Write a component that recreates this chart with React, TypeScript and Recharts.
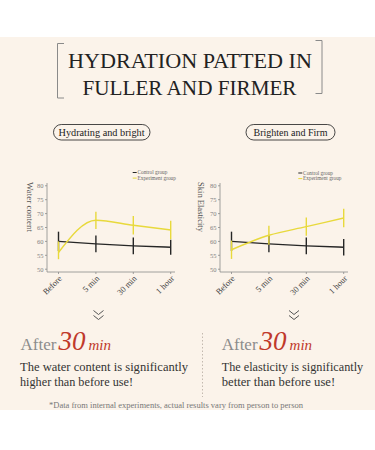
import React from 'react';
import { LineChart, Line, XAxis, YAxis, ErrorBar } from 'recharts';

const categories = ['Before', '5 min', '30 min', '1 hour'];
const yTicks = [50, 55, 60, 65, 70, 75, 80];

const waterControl = [60, 59.1, 58.4, 57.9];
const waterControlErr = [3.5, 3, 3, 2.7];
const waterExperiment = [56, 67.6, 65.8, 64.1];
const waterExperimentErr: (number | number[])[] = [[2.4, 4], 3.1, 3.3, 3.3];

const elasticControl = [60, 59.1, 58.4, 57.9];
const elasticControlErr = [3.5, 3, 3, 3];
const elasticExperiment = [57, 62.2, 65.3, 68.4];
const elasticExperimentErr = [3.3, 3.4, 3.3, 3.3];

const buildRows = (c: number[], ce: any[], e: number[], ee: any[]) =>
  categories.map((name, i) => ({ name, control: c[i], controlErr: ce[i], exp: e[i], expErr: ee[i] }));

const waterRows = buildRows(waterControl, waterControlErr, waterExperiment, waterExperimentErr);
const elasticRows = buildRows(elasticControl, elasticControlErr, elasticExperiment, elasticExperimentErr);

const SERIF = '"Liberation Serif", "DejaVu Serif", serif';
const BLACK = '#262626';
const YELLOW = '#E8D93C';

const XTick = (props: any) => {
  const { x, y, payload } = props;
  const ax = x + 4;
  const ay = y + 5;
  return (
    <text x={ax} y={ay} transform={`rotate(-45 ${ax} ${ay})`} textAnchor="end" fontSize={8.5} fill="#444" fontFamily={SERIF}>
      {payload.value}
    </text>
  );
};

const Chart = ({ rows, left }: { rows: any[]; left: number }) => (
  <div style={{ position: 'absolute', left, top: 160 }}>
    <LineChart width={190} height={140} data={rows} margin={{ top: 23, right: 15, bottom: 0, left: 17 }}>
      <XAxis
        dataKey="name"
        height={28}
        padding={{ left: 11.5, right: 4.3 }}
        tick={<XTick />}
        tickSize={2}
        tickMargin={0}
        axisLine={{ stroke: '#8a8a8a', strokeWidth: 0.8 }}
        tickLine={{ stroke: '#8a8a8a', strokeWidth: 0.8 }}
        interval={0}
      />
      <YAxis
        width={30}
        domain={[49, 81]}
        ticks={yTicks}
        type="number"
        allowDataOverflow
        tickSize={2}
        tickMargin={1.5}
        tick={{ fontSize: 6.5, fill: '#808080', fontFamily: SERIF }}
        axisLine={{ stroke: '#8a8a8a', strokeWidth: 0.8 }}
        tickLine={{ stroke: '#8a8a8a', strokeWidth: 0.8 }}
      />
      <Line type="monotone" dataKey="control" stroke={BLACK} strokeWidth={1.4} dot={false} isAnimationActive={false}>
        <ErrorBar dataKey="controlErr" width={0} stroke={BLACK} strokeWidth={1.4} direction="y" />
      </Line>
      <Line type="monotone" dataKey="exp" stroke={YELLOW} strokeWidth={1.4} dot={false} isAnimationActive={false}>
        <ErrorBar dataKey="expErr" width={0} stroke={YELLOW} strokeWidth={1.4} direction="y" />
      </Line>
    </LineChart>
  </div>
);

const Legend = ({ x, y }: { x: number; y: number }) => (
  <g fontFamily={SERIF} fontSize={5.3} fill="#666">
    <line x1={x} x2={x + 4} y1={y} y2={y} stroke={BLACK} strokeWidth={1} />
    <text x={x + 4.8} y={y + 1.8}>Control group</text>
    <line x1={x} x2={x + 4} y1={y + 5.6} y2={y + 5.6} stroke={YELLOW} strokeWidth={1} />
    <text x={x + 4.8} y={y + 7.4}>Experiment group</text>
  </g>
);

const Chevron = ({ cx, y }: { cx: number; y: number }) => (
  <g fill="none" stroke="#555" strokeWidth={1}>
    <polyline points={`${cx - 5},${y} ${cx},${y + 4} ${cx + 5},${y}`} />
    <polyline points={`${cx - 5},${y + 5} ${cx},${y + 9} ${cx + 5},${y + 5}`} />
  </g>
);

const After = ({ x }: { x: number }) => (
  <text x={x} y={350} fontFamily={SERIF}>
    <tspan fontSize={17} fill="#8c8c8c">After</tspan>
    <tspan fontSize={27} fill="#C0392B" fontStyle="italic" dx={2}>30</tspan>
    <tspan fontSize={15} fill="#C0392B" fontStyle="italic" dx={3}>min</tspan>
  </text>
);

export default function App() {
  return (
    <div style={{ position: 'absolute', left: 0, top: 0, width: 375, height: 450, background: '#fff', overflow: 'hidden' }}>
      <svg width={375} height={450} style={{ position: 'absolute', left: 0, top: 0 }}>
        <rect x={0} y={37} width={375} height={373} fill="#FBF3EA" />
        {/* Title brackets */}
        <polyline points="64,43.5 57.5,43.5 57.5,98 64,98" fill="none" stroke="#8a8a8a" strokeWidth={1} />
        <polyline points="315.5,40.5 322,40.5 322,93.5 315.5,93.5" fill="none" stroke="#8a8a8a" strokeWidth={1} />
        <text x={190} y={68} textAnchor="middle" fontFamily={SERIF} fontSize={22} fill="#222" textLength={244} lengthAdjust="spacingAndGlyphs">
          HYDRATION PATTED IN
        </text>
        <text x={189.5} y={95} textAnchor="middle" fontFamily={SERIF} fontSize={22} fill="#222" textLength={214} lengthAdjust="spacingAndGlyphs">
          FULLER AND FIRMER
        </text>
        {/* Pills */}
        <rect x={53.5} y={124.5} width={96.5} height={15.5} rx={7.75} fill="none" stroke="#333" strokeWidth={0.9} />
        <text x={101.5} y={135.8} textAnchor="middle" fontFamily={SERIF} fontSize={10} fill="#222" textLength={86} lengthAdjust="spacingAndGlyphs">
          Hydrating and bright
        </text>
        <rect x={246} y={124.5} width={89} height={15.5} rx={7.75} fill="none" stroke="#333" strokeWidth={0.9} />
        <text x={290.5} y={135.8} textAnchor="middle" fontFamily={SERIF} fontSize={10} fill="#222" textLength={74} lengthAdjust="spacingAndGlyphs">
          Brighten and Firm
        </text>
        {/* Legends */}
        <Legend x={132.7} y={172.5} />
        <Legend x={298.3} y={173} />
        {/* Y labels */}
        <text x={0} y={0} transform="translate(27,182) rotate(90)" fontFamily={SERIF} fontSize={8.5} fill="#555" textLength={50} lengthAdjust="spacingAndGlyphs">
          Water content
        </text>
        <text x={0} y={0} transform="translate(198,182) rotate(90)" fontFamily={SERIF} fontSize={8.5} fill="#555" textLength={50} lengthAdjust="spacingAndGlyphs">
          Skin Elasticity
        </text>
        {/* Bottom */}
        <Chevron cx={98.5} y={310.5} />
        <Chevron cx={294} y={310.5} />
        <After x={20.5} />
        <After x={221.7} />
        <g fontFamily={SERIF} fontSize={13} fill="#333">
          <text x={20} y={370.5} textLength={168} lengthAdjust="spacingAndGlyphs">The water content is significantly</text>
          <text x={20} y={385.5} textLength={113} lengthAdjust="spacingAndGlyphs">higher than before use!</text>
          <text x={221.7} y={370.5} textLength={141.5} lengthAdjust="spacingAndGlyphs">The elasticity is significantly</text>
          <text x={221.7} y={385.5} textLength={113.5} lengthAdjust="spacingAndGlyphs">better than before use!</text>
        </g>
        <line x1={202.5} x2={202.5} y1={333} y2={397} stroke="#b5aaa0" strokeWidth={0.8} strokeDasharray="1.5 2" />
        <text x={176} y={407.5} textAnchor="middle" fontFamily={SERIF} fontSize={8} fill="#777" textLength={254} lengthAdjust="spacingAndGlyphs">
          *Data from internal experiments, actual results vary from person to person
        </text>
      </svg>
      <Chart rows={waterRows} left={0} />
      <Chart rows={elasticRows} left={173} />
    </div>
  );
}
